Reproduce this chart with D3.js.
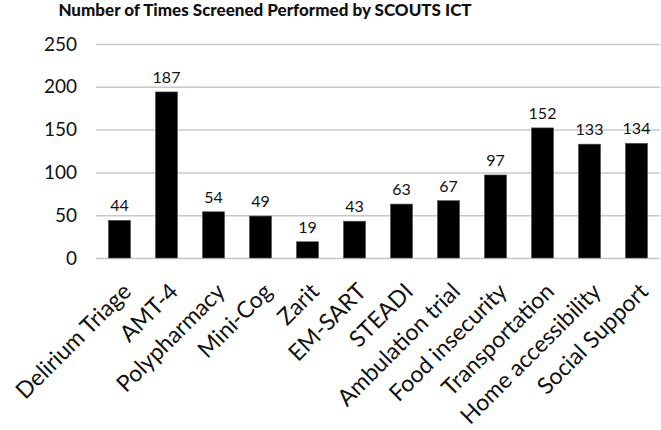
<!DOCTYPE html>
<html>
  <head>
    <meta charset="UTF-8">
    <title>SCOUTS ICT screenings</title>
    <script src="https://d3js.org/d3.v7.min.js"></script>
    <style>
      body { margin: 0; background: #fff; }
      text { font-family: Lato, "Open Sans", sans-serif; fill: #111; }
    </style>
  </head>
  <body>
    <div id="chart-container"></div>
  <script type="text/javascript">

    // Data
    const categories = ["Delirium Triage", "AMT-4", "Polypharmacy", "Mini-Cog", "Zarit", "EM-SART",
                        "STEADI", "Ambulation trial", "Food insecurity", "Transportation",
                        "Home accessibility", "Social Support"];
    // bar heights as drawn (AMT-4 bar is drawn taller than its label)
    const values = [44, 194, 54, 49, 19, 43, 63, 67, 97, 152, 133, 134];
    const valueLabels = ["44", "187", "54", "49", "19", "43", "63", "67", "97", "152", "133", "134"];
    const yTicks = [0, 50, 100, 150, 200, 250];

    const width = 661;
    const height = 430;
    const margin = ({top: 44, right: 1, bottom: 172, left: 96});

    const svg = d3.select("#chart-container")
        .append("svg")
        .attr("width", width)
        .attr("height", height);

    const x = d3.scaleBand()
        .domain(categories)
        .range([margin.left, width - margin.right])
        .paddingInner(0.53)
        .paddingOuter(0.265);

    const y = d3.scaleLinear()
        .domain([0, 250])
        .range([height - margin.bottom, margin.top]);

    // Title
    svg.append("text")
        .attr("x", 265)
        .attr("y", 16)
        .attr("text-anchor", "middle")
        .style("font-weight", "900")
        .style("font-size", "17px")
        .text("Number of Times Screened Performed by SCOUTS ICT");

    // Gridlines + y labels
    const yAxis = g => g
        .attr("transform", `translate(${margin.left},0)`)
        .call(d3.axisLeft(y).tickValues(yTicks).tickSize(-(width - margin.left - margin.right)).tickPadding(19))
        .call(g => g.select(".domain").remove())
        .call(g => g.selectAll(".tick line").attr("stroke", "#c8c8c8").attr("stroke-width", 1.5))
        .call(g => g.selectAll(".tick text").style("font-size", "19px").attr("fill", "#111"));

    svg.append("g").call(yAxis);

    // Bars
    svg.append("g")
      .selectAll("rect")
      .data(values)
      .join("rect")
        .attr("x", (d, i) => x(categories[i]))
        .attr("y", d => y(d))
        .attr("width", x.bandwidth())
        .attr("height", d => y(0) - y(d))
        .attr("fill", "#000")
        .attr("stroke", "#555")
        .attr("stroke-width", 0.6);

    // Value labels
    svg.append("g")
      .selectAll("text")
      .data(values)
      .join("text")
        .attr("x", (d, i) => x(categories[i]) + x.bandwidth() / 2)
        .attr("y", d => y(d) - 9)
        .attr("text-anchor", "middle")
        .style("font-size", "16px")
        .text((d, i) => valueLabels[i]);

    // Category labels, rotated
    svg.append("g")
      .selectAll("text")
      .data(categories)
      .join("text")
        .attr("transform", d => `translate(${x(d) + x.bandwidth() / 2 + 13},${height - margin.bottom + 35}) rotate(-45)`)
        .attr("text-anchor", "end")
        .style("font-size", "23px")
        .text(d => d);

  </script>
  </body>
</html>
